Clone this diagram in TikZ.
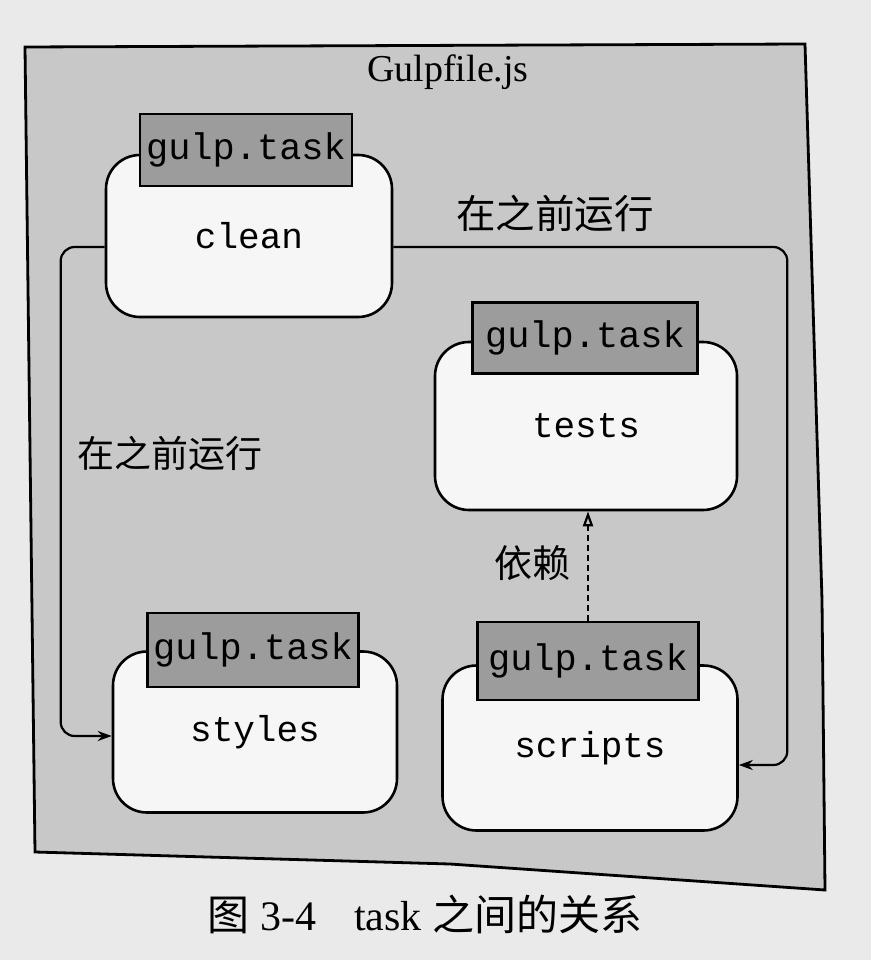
\documentclass[tikz,border=0pt]{standalone}
\usepackage{fontspec}
\setmainfont{Liberation Serif}
\setmonofont{Liberation Mono}
\newfontfamily\cjk{Noto Sans CJK SC}
\usetikzlibrary{arrows.meta}
\definecolor{pagebg}{HTML}{EAEAEA}
\definecolor{outerfill}{HTML}{C8C8C8}
\definecolor{labelfill}{HTML}{9C9C9C}
\definecolor{boxfill}{HTML}{F6F6F6}
\begin{document}
\begin{tikzpicture}[x=1pt,y=-1pt,
  taskbox/.style={draw=black, line width=2.6pt, fill=boxfill, rounded corners=34pt, inner sep=0pt, font=\fontsize{36}{40}\selectfont\ttfamily},
  tasklabel/.style={draw=black, line width=2.6pt, fill=labelfill, inner sep=0pt, minimum width=212pt, minimum height=72pt, font=\fontsize{37}{40}\selectfont\ttfamily},
  conn/.style={line width=2.2pt, rounded corners=14pt, -{Stealth[length=14pt,width=10pt]}},
  dep/.style={line width=2.2pt, dash pattern=on 6pt off 4pt, -{Triangle[open,length=15pt,width=10pt]}},
  cjklabel/.style={font=\cjk\fontsize{38}{40}\selectfont}]
\useasboundingbox (0,0) rectangle (871,960);
\fill[pagebg] (0,0) rectangle (871,960);
\draw[fill=outerfill, line width=2.8pt] (25,47) -- (805,44) -- (822,600) -- (825,890) -- (450,864) -- (35,852) -- cycle;

\node[taskbox, minimum width=286pt, minimum height=162pt] (clean) at (249,236) {clean};
\node[taskbox, minimum width=302pt, minimum height=168pt] (tests) at (586,426) {tests};
\node[taskbox, minimum width=284pt, minimum height=161pt] (styles) at (255,732) {styles};
\node[taskbox, minimum width=295pt, minimum height=165pt] (scripts) at (590,748) {scripts};

\node[tasklabel] (cleanlbl) at (246,150) {gulp.task};
\node[tasklabel, minimum width=225pt, minimum height=71pt] (testslbl) at (585,338) {gulp.task};
\node[tasklabel, minimum width=211pt, minimum height=74pt] (styleslbl) at (253,650) {gulp.task};
\node[tasklabel, minimum width=221pt, minimum height=78pt] (scriptslbl) at (588,661) {gulp.task};

\draw[conn] ([yshift=-11pt]clean.east) -- ++(394,0) |- ([yshift=-17pt]scripts.east);
\draw[conn] ([yshift=-11pt]clean.west) -- ++(-44,0) |- ([yshift=-4pt]styles.west);
\draw[dep] (scriptslbl.north) -- (scriptslbl.north |- tests.south);

\node[cjklabel, font=\cjk\fontsize{39.5}{42}\selectfont] (lblA) at (555,213) {在之前运行};
\node[cjklabel, font=\cjk\fontsize{37}{40}\selectfont] (lblB) at (170,453) {在之前运行};
\node[cjklabel] (lblC) at (532,563) {依赖};
\node[font=\fontsize{38}{40}\selectfont] (title) at (448,72) {Gulpfile.js};
\node[font=\fontsize{42}{44}\selectfont] (caption) at (425,914) {{\cjk 图} 3-4\hspace{0.9em}task {\cjk 之间的关系}};
\end{tikzpicture}
\end{document}
